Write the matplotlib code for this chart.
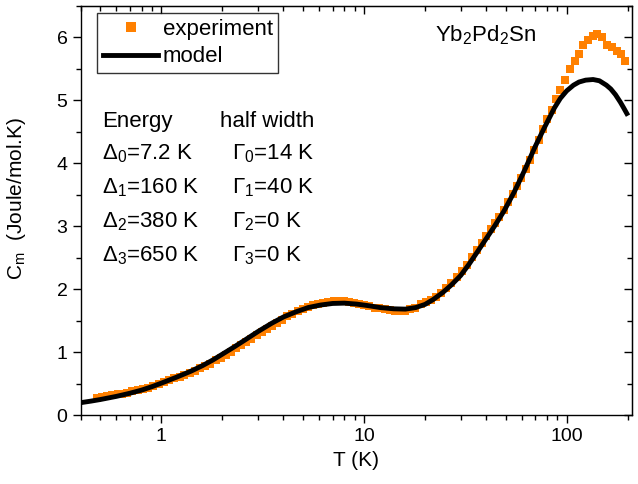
import numpy as np
import matplotlib.pyplot as plt
from matplotlib.ticker import FixedLocator, MultipleLocator, NullFormatter

plt.rcParams['font.family'] = ['Liberation Sans', 'DejaVu Sans']
plt.rcParams['mathtext.fontset'] = 'custom'
plt.rcParams['mathtext.rm'] = 'Liberation Sans'
plt.rcParams['mathtext.it'] = 'Liberation Sans:italic'

# измеренная магнитная теплоёмкость
T_exp = [0.48, 0.51, 0.54, 0.57, 0.61, 0.64, 0.68, 0.72, 0.77, 0.81,
         0.86, 0.91, 0.97, 1.03, 1.09, 1.16, 1.23, 1.30, 1.38, 1.46,
         1.55, 1.64, 1.74, 1.85, 1.96, 2.08, 2.20, 2.33, 2.47, 2.62,
         2.78, 2.95, 3.12, 3.31, 3.51, 3.72, 3.94, 4.18, 4.43, 4.70,
         4.98, 5.28, 5.60, 5.93, 6.29, 6.67, 7.07, 7.49, 7.94, 8.42,
         8.92, 9.46, 10.0, 10.6, 11.3, 11.9, 12.7, 13.4, 14.2, 15.1,
         16.0, 16.9, 17.9, 19.0, 20.2, 21.4, 22.7, 24.0, 25.5, 27.0,
         28.6, 30.3, 32.1, 34.1, 36.1, 38.3, 40.2, 42.2, 44.4, 46.6,
         49.0, 51.5, 54.1, 56.8, 59.7, 62.7, 65.9, 69.2, 72.7, 76.4,
         80.2, 84.3, 88.2, 93.0, 98.4, 103.8, 109.5, 115.0, 120.7, 127.8,
         135.3, 141.6, 149.9, 157.6, 166.7, 176.4, 184.6, 193.9]
C_exp = [0.28, 0.29, 0.30, 0.315, 0.33, 0.345, 0.36, 0.38, 0.40, 0.42,
         0.44, 0.47, 0.50, 0.53, 0.555, 0.585, 0.615, 0.645, 0.675, 0.71,
         0.75, 0.78, 0.82, 0.87, 0.91, 0.96, 1.01, 1.06, 1.11, 1.16,
         1.21, 1.27, 1.32, 1.37, 1.42, 1.47, 1.52, 1.57, 1.61, 1.65,
         1.69, 1.72, 1.75, 1.77, 1.79, 1.80, 1.81, 1.81, 1.81, 1.80,
         1.79, 1.77, 1.75, 1.73, 1.71, 1.70, 1.68, 1.67, 1.66, 1.66,
         1.66, 1.68, 1.71, 1.76, 1.80, 1.83, 1.88, 1.94, 2.02, 2.10,
         2.19, 2.29, 2.39, 2.51, 2.62, 2.74, 2.85, 2.95, 3.05, 3.14,
         3.26, 3.38, 3.51, 3.64, 3.77, 3.91, 4.06, 4.21, 4.37, 4.54,
         4.70, 4.84, 5.02, 5.17, 5.33, 5.49, 5.63, 5.74, 5.87, 5.95,
         6.02, 6.06, 6.00, 5.87, 5.84, 5.79, 5.73, 5.63]

# расчёт по модели
T_mod = [0.40, 0.45, 0.50, 0.60, 0.70, 0.80, 0.90, 1.0, 1.2, 1.4,
         1.6, 1.8, 2.0, 2.3, 2.6, 3.0, 3.5, 4.0, 4.6, 5.3,
         6.1, 7.0, 8.0, 9.2, 10.5, 12.0, 14.0, 16.0, 18.0, 20.0,
         22.0, 24.5, 27.0, 30.0, 33.0, 36.0, 40.0, 44.0, 49.0, 55.0,
         62.0, 70.0, 78.0, 87.0, 93.0, 100.0, 108.0, 115.0, 124.0, 135.0,
         145.0, 157.0, 165.0, 174.0, 184.0, 191.0, 198.0]
C_mod = [0.20, 0.225, 0.25, 0.30, 0.35, 0.40, 0.455, 0.51, 0.61, 0.70,
         0.79, 0.88, 0.97, 1.09, 1.20, 1.33, 1.46, 1.56, 1.64, 1.71,
         1.75, 1.775, 1.78, 1.765, 1.74, 1.71, 1.69, 1.685, 1.71, 1.76,
         1.84, 1.95, 2.07, 2.22, 2.40, 2.58, 2.80, 3.00, 3.24, 3.54,
         3.89, 4.27, 4.58, 4.88, 5.03, 5.15, 5.24, 5.29, 5.32, 5.33,
         5.31, 5.24, 5.18, 5.09, 4.97, 4.88, 4.79]

fig = plt.figure(figsize=(6.38, 4.84), dpi=100)
ax = fig.add_axes([0.1265, 0.142, 0.8641, 0.846])

ax.plot(T_exp, C_exp, 's', color='#FF8000', ms=6, mew=0, label='experiment')
ax.plot(T_mod, C_mod, '-', color='black', lw=3.5, label='model')

ax.set_xscale('log')
ax.set_xlim(0.4, 210)
ax.set_ylim(0, 6.5)

ax.xaxis.set_major_locator(FixedLocator([1, 10, 100]))
ax.set_xticklabels(['1', '10', '100'])
ax.xaxis.set_minor_formatter(NullFormatter())
ax.yaxis.set_major_locator(MultipleLocator(1))
ax.yaxis.set_minor_locator(MultipleLocator(0.5))

ax.tick_params(which='major', direction='out', length=6, width=1, labelsize=14)
ax.tick_params(which='minor', direction='out', length=3.5, width=1)
for s in ax.spines.values():
    s.set_linewidth(1)

# зеркальные деления сверху и справа смотрят внутрь
top = ax.secondary_xaxis('top')
top.xaxis.set_major_locator(FixedLocator([1, 10, 100]))
top.tick_params(which='major', direction='in', length=6, width=1, labeltop=False)
top.tick_params(which='minor', direction='in', length=3.5, width=1)
top.xaxis.set_minor_formatter(NullFormatter())
right = ax.secondary_yaxis('right')
right.yaxis.set_major_locator(MultipleLocator(1))
right.yaxis.set_minor_locator(MultipleLocator(0.5))
right.tick_params(which='major', direction='in', length=6, width=1, labelright=False)
right.tick_params(which='minor', direction='in', length=3.5, width=1)

ax.set_xlabel('T (K)', fontsize=15, labelpad=4)
ax.set_ylabel(r'C$_{\rm m}$  (Joule/mol.K)', fontsize=15)
ax.yaxis.set_label_coords(-0.095, 0.53)

leg = ax.legend(loc='upper left', bbox_to_anchor=(0.03, 0.982), borderaxespad=0,
                fontsize=16, frameon=True, fancybox=False, edgecolor='black',
                handlelength=2.5, handletextpad=0.2, labelspacing=0.3,
                borderpad=0.25, markerscale=1.15)
leg.get_frame().set_linewidth(1)

fig.text(435 / 638, 1 - 35 / 484, r'Yb$_2$Pd$_2$Sn', fontsize=16, va='center')

rows = [('Energy', 'half width'),
        (r'$\Delta_0$=7.2 K', r'$\Gamma_0$=14 K'),
        (r'$\Delta_1$=160 K', r'$\Gamma_1$=40 K'),
        (r'$\Delta_2$=380 K', r'$\Gamma_2$=0 K'),
        (r'$\Delta_3$=650 K', r'$\Gamma_3$=0 K')]
ys = [122, 154, 188, 222, 256]
for (a, b), y in zip(rows, ys):
    xb = 220 if b == 'half width' else 232
    fig.text(102 / 638, 1 - y / 484, a, fontsize=16, va='center')
    fig.text(xb / 638, 1 - y / 484, b, fontsize=16, va='center')

plt.savefig('out.png', dpi=100)
